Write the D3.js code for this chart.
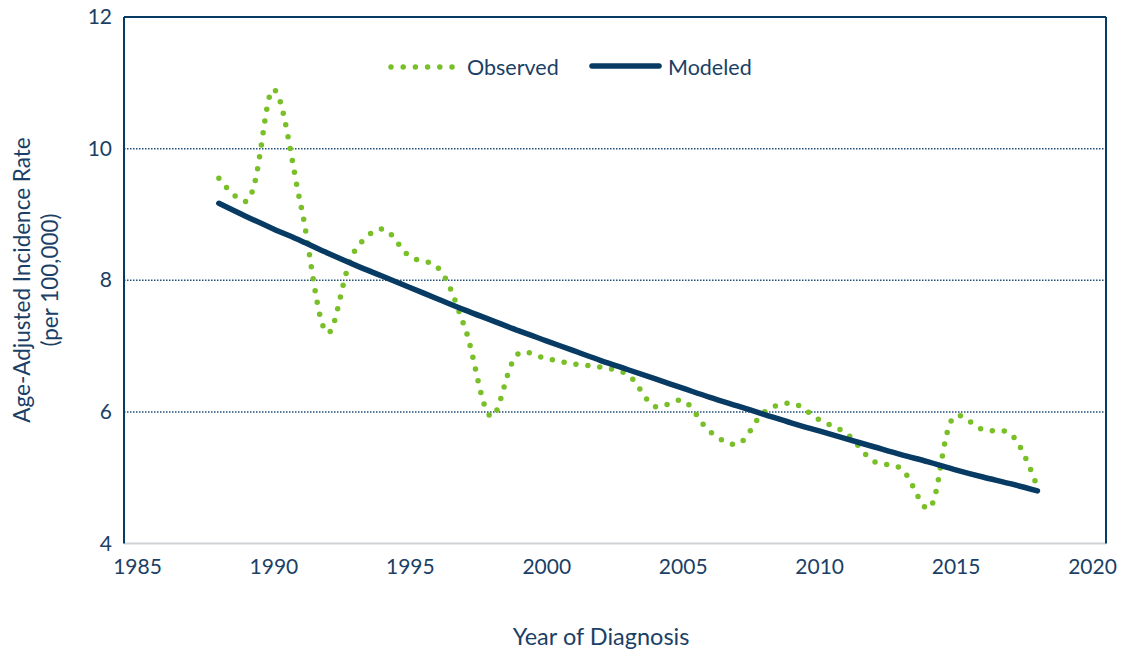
<!DOCTYPE html>
<html>
<head>
<meta charset="utf-8">
<script src="https://cdn.jsdelivr.net/npm/d3@7"></script>
<style>
  body { margin: 0; background: #fff; }
  svg text { font-family: Lato, "Open Sans", sans-serif; fill: #1b3f66; }
</style>
</head>
<body>
<div id="chart"></div>
<script>
// data
const years = [1988, 1989, 1990, 1991, 1992, 1993, 1994, 1995, 1996, 1997,
  1998, 1999, 2000, 2001, 2002, 2003, 2004, 2005, 2006, 2007,
  2008, 2009, 2010, 2011, 2012, 2013, 2014, 2015, 2016, 2017, 2018];
const observed = [9.55, 9.2, 10.9, 9.15, 7.2, 8.46, 8.78, 8.36, 8.2, 7.3,
  5.93, 6.89, 6.81, 6.73, 6.68, 6.56, 6.08, 6.17, 5.7, 5.51,
  6.0, 6.13, 5.88, 5.67, 5.25, 5.14, 4.53, 5.94, 5.73, 5.67, 4.85];
const modeled = [9.17, 8.97, 8.78, 8.6, 8.41, 8.23, 8.06, 7.89, 7.72, 7.55,
  7.39, 7.23, 7.08, 6.93, 6.78, 6.64, 6.5, 6.36, 6.22, 6.09,
  5.96, 5.83, 5.71, 5.59, 5.47, 5.35, 5.24, 5.12, 5.01, 4.91, 4.8];
const xTicks = [1985, 1990, 1995, 2000, 2005, 2010, 2015, 2020];
const yTicks = [4, 6, 8, 10, 12];
const seriesNames = ["Observed", "Modeled"];

const width = 1125, height = 656;
const frame = { left: 124, right: 1106, top: 17, bottom: 543.5 };
const navy = "#073b63", green = "#79bf27";

const svg = d3.select("#chart").append("svg")
  .attr("width", width)
  .attr("height", height);

const x = d3.scaleLinear().domain([1985, 2020]).range([137, 1092]);
const y = d3.scaleLinear().domain([4, 12]).range([frame.bottom, frame.top]);

// gridlines
svg.append("g")
  .selectAll("line")
  .data(yTicks.filter(d => d > 4 && d < 12))
  .join("line")
  .attr("x1", frame.left).attr("x2", frame.right)
  .attr("y1", d => y(d)).attr("y2", d => y(d))
  .attr("stroke", "#1f4e79")
  .attr("stroke-width", 1.5)
  .attr("stroke-dasharray", "1.5 1.5");

// frame: navy top / left / right, grey bottom
svg.append("line")
  .attr("x1", frame.left).attr("x2", frame.right)
  .attr("y1", frame.top).attr("y2", frame.top)
  .attr("stroke", navy).attr("stroke-width", 2);
svg.append("line")
  .attr("x1", frame.left).attr("x2", frame.right)
  .attr("y1", frame.bottom).attr("y2", frame.bottom)
  .attr("stroke", "#d0d3d6").attr("stroke-width", 2);
svg.append("line")
  .attr("x1", frame.left).attr("x2", frame.left)
  .attr("y1", frame.top).attr("y2", frame.bottom)
  .attr("stroke", navy).attr("stroke-width", 2);
svg.append("line")
  .attr("x1", frame.right).attr("x2", frame.right)
  .attr("y1", frame.top).attr("y2", frame.bottom)
  .attr("stroke", navy).attr("stroke-width", 2);

// axes
const xAxis = d3.axisBottom(x).tickValues(xTicks).tickSize(0).tickPadding(0).tickFormat(d3.format("d"));
svg.append("g")
  .attr("transform", `translate(0,${frame.bottom + 24})`)
  .call(xAxis)
  .call(g => g.select(".domain").remove())
  .selectAll("text")
  .attr("dy", "0.32em")
  .style("font-size", "21px");

const yAxis = d3.axisLeft(y).tickValues(yTicks).tickSize(0).tickPadding(0);
svg.append("g")
  .attr("transform", `translate(${frame.left - 12},0)`)
  .call(yAxis)
  .call(g => g.select(".domain").remove())
  .selectAll("text")
  .style("font-size", "21px");

// axis titles
svg.append("text")
  .attr("x", 601).attr("y", 645)
  .attr("text-anchor", "middle")
  .style("font-size", "23.5px")
  .text("Year of Diagnosis");

const yTitle = svg.append("text")
  .attr("transform", "translate(30,280) rotate(-90)")
  .attr("text-anchor", "middle")
  .style("font-size", "22.5px");
yTitle.append("tspan").attr("x", 0).attr("dy", 0).text("Age-Adjusted Incidence Rate");
yTitle.append("tspan").attr("x", 0).attr("dy", 28).text("(per 100,000)");

// lines
const line = d3.line()
  .x((d, i) => x(years[i]))
  .y(d => y(d))
  .curve(d3.curveCatmullRom.alpha(0.5));

svg.append("path")
  .datum(observed)
  .attr("d", line)
  .attr("fill", "none")
  .attr("stroke", green)
  .attr("stroke-width", 5.5)
  .attr("stroke-linecap", "round")
  .attr("stroke-dasharray", "0 12");

svg.append("path")
  .datum(modeled)
  .attr("d", line)
  .attr("fill", "none")
  .attr("stroke", navy)
  .attr("stroke-width", 5.5)
  .attr("stroke-linecap", "round");

// legend
const legend = svg.append("g");
legend.append("line")
  .attr("x1", 391).attr("x2", 453).attr("y1", 67).attr("y2", 67)
  .attr("stroke", green).attr("stroke-width", 5.5)
  .attr("stroke-linecap", "round").attr("stroke-dasharray", "0 12.2");
legend.append("text")
  .attr("x", 467).attr("y", 67).attr("dy", "0.35em")
  .style("font-size", "21.5px")
  .text(seriesNames[0]);
legend.append("line")
  .attr("x1", 592).attr("x2", 659).attr("y1", 66).attr("y2", 66)
  .attr("stroke", navy).attr("stroke-width", 5.5)
  .attr("stroke-linecap", "round");
legend.append("text")
  .attr("x", 668).attr("y", 67).attr("dy", "0.35em")
  .style("font-size", "21.5px")
  .text(seriesNames[1]);
</script>
</body>
</html>
